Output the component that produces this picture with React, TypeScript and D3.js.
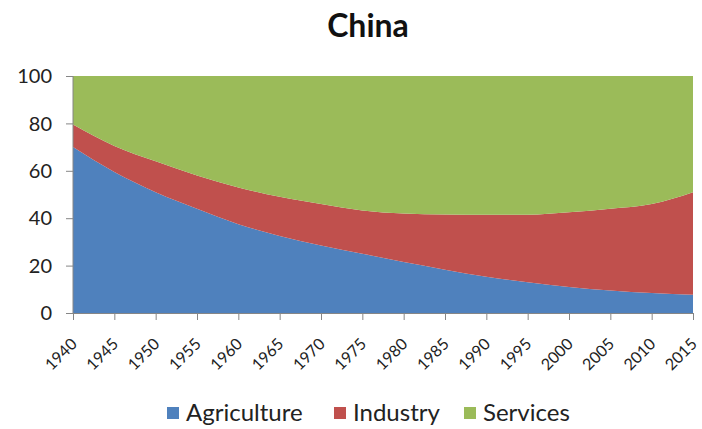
import React, { useEffect, useRef } from 'react';
import * as d3 from 'd3';

const YEARS = [1940, 1945, 1950, 1955, 1960, 1965, 1970, 1975, 1980, 1985, 1990, 1995, 2000, 2005, 2010, 2015];
const AGRICULTURE = [70, 59.5, 51, 44, 37.5, 32.5, 28.5, 25, 21.5, 18.3, 15.3, 13, 11, 9.5, 8.4, 7.7];
const INDUSTRY = [9.5, 11, 13, 14, 15.5, 16.5, 17.5, 18.3, 20.5, 23.3, 26.2, 28.5, 31.5, 34.5, 37.6, 43.3];
const SERVICES = [20.5, 29.5, 36, 42, 47, 51, 54, 56.7, 58, 58.4, 58.5, 58.5, 57.5, 56, 54, 49];
const Y_TICKS = [0, 20, 40, 60, 80, 100];

const SERIES = ['Agriculture', 'Industry', 'Services'] as const;
const COLORS: Record<string, string> = {
  Agriculture: '#4F81BD',
  Industry: '#C0504D',
  Services: '#9BBB59',
};

const FONT = 'Lato, "Open Sans", sans-serif';

const App: React.FC = () => {
  const ref = useRef<SVGSVGElement>(null);

  useEffect(() => {
    if (!ref.current) return;
    const svg = d3.select(ref.current);
    svg.selectAll('*').remove();

    const width = 702;
    const height = 429;
    const margin = { top: 76, right: 9, bottom: 116, left: 73 };

    const rows = YEARS.map((year, i) => ({
      year,
      Agriculture: AGRICULTURE[i],
      Industry: INDUSTRY[i],
      Services: SERVICES[i],
    }));

    const x = d3.scaleLinear().domain([1940, 2015]).range([margin.left, width - margin.right]);
    const y = d3.scaleLinear().domain([0, 100]).range([height - margin.bottom, margin.top]);

    const stacked = d3.stack<any>().keys(SERIES as unknown as string[])(rows);

    const area = d3
      .area<any>()
      .x((d) => x(d.data.year))
      .y0((d) => y(d[0]))
      .y1((d) => y(Math.min(100, d[1])))
      .curve(d3.curveMonotoneX);

    svg
      .append('g')
      .selectAll('path')
      .data(stacked)
      .enter()
      .append('path')
      .attr('d', (d) => area(d as any) ?? '')
      .attr('fill', (d) => COLORS[d.key]);

    const axisColor = '#868686';

    // y axis
    const yAxis = svg.append('g').attr('transform', `translate(${margin.left},0)`);
    yAxis
      .append('line')
      .attr('x1', 0)
      .attr('x2', 0)
      .attr('y1', y(0))
      .attr('y2', y(100))
      .attr('stroke', axisColor);
    yAxis
      .selectAll('line.tick')
      .data(Y_TICKS)
      .enter()
      .append('line')
      .attr('class', 'tick')
      .attr('x1', -7)
      .attr('x2', 0)
      .attr('y1', (d) => y(d) + 0.5)
      .attr('y2', (d) => y(d) + 0.5)
      .attr('stroke', axisColor);
    yAxis
      .selectAll('text')
      .data(Y_TICKS)
      .enter()
      .append('text')
      .attr('x', -21)
      .attr('y', (d) => y(d))
      .attr('dy', '0.36em')
      .attr('text-anchor', 'end')
      .style('font-family', FONT)
      .style('font-size', '20px')
      .attr('fill', '#222')
      .text((d) => d);

    // x axis
    const xAxis = svg.append('g').attr('transform', `translate(0,${y(0)})`);
    xAxis
      .append('line')
      .attr('x1', x(1940))
      .attr('x2', x(2015))
      .attr('y1', 0.5)
      .attr('y2', 0.5)
      .attr('stroke', axisColor);
    xAxis
      .selectAll('line.tick')
      .data(YEARS)
      .enter()
      .append('line')
      .attr('class', 'tick')
      .attr('x1', (d) => x(d) + 0.5)
      .attr('x2', (d) => x(d) + 0.5)
      .attr('y1', 0)
      .attr('y2', 7)
      .attr('stroke', axisColor);
    xAxis
      .selectAll('text')
      .data(YEARS)
      .enter()
      .append('text')
      .attr('transform', (d) => `translate(${x(d) + 5},${32}) rotate(-45)`)
      .attr('text-anchor', 'end')
      .style('font-family', FONT)
      .style('font-size', '16px')
      .attr('fill', '#222')
      .text((d) => d);

    // title
    svg
      .append('text')
      .attr('x', 368)
      .attr('y', 37)
      .attr('text-anchor', 'middle')
      .style('font-family', FONT)
      .style('font-size', '32px')
      .style('font-weight', 'bold')
      .attr('fill', '#111')
      .text('China');

    // legend
    const legendX = [167, 334, 464];
    const legend = svg.append('g');
    SERIES.forEach((s, i) => {
      const g = legend.append('g').attr('transform', `translate(${legendX[i]},407)`);
      g.append('rect').attr('width', 12).attr('height', 12).attr('fill', COLORS[s]);
      g.append('text')
        .attr('x', 19)
        .attr('y', 14)
        .style('font-family', FONT)
        .style('font-size', '24px')
        .attr('fill', '#222')
        .text(s);
    });
  }, []);

  return (
    <div style={{ position: 'absolute', left: 0, top: 0 }}>
      <svg ref={ref} width={702} height={429} style={{ display: 'block', background: '#fff' }} />
    </div>
  );
};

export default App;
